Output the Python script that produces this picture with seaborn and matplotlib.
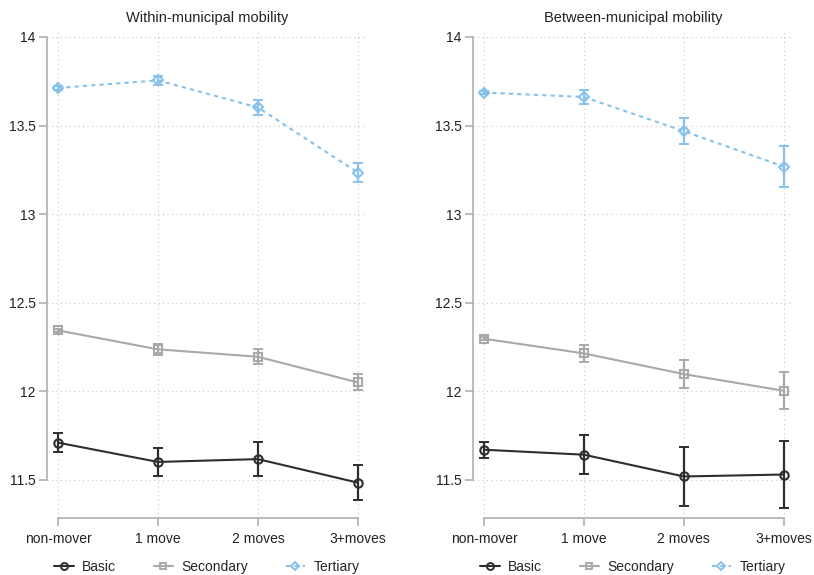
import matplotlib
matplotlib.use("Agg")
import matplotlib.pyplot as plt
import numpy as np
import pandas as pd
import seaborn as sns
from matplotlib.lines import Line2D

# ── Data ─────────────────────────────────────────────────────────────────────
moves = ["non-mover", "1 move", "2 moves", "3+moves"]
levels = ["Basic", "Secondary", "Tertiary"]
panels = ["Within-municipal mobility", "Between-municipal mobility"]

within_basic = [11.709, 11.600, 11.616, 11.483]
within_basic_err = [0.055, 0.078, 0.098, 0.099]
within_secondary = [12.343, 12.236, 12.194, 12.049]
within_secondary_err = [0.010, 0.030, 0.042, 0.045]
within_tertiary = [13.712, 13.755, 13.602, 13.234]
within_tertiary_err = [0.010, 0.025, 0.043, 0.052]

between_basic = [11.669, 11.641, 11.518, 11.529]
between_basic_err = [0.044, 0.110, 0.166, 0.190]
between_secondary = [12.296, 12.213, 12.096, 12.002]
between_secondary_err = [0.010, 0.047, 0.077, 0.104]
between_tertiary = [13.686, 13.661, 13.468, 13.268]
between_tertiary_err = [0.010, 0.040, 0.074, 0.115]

COLORS = {"Basic": "#2e2e2e", "Secondary": "#a9a9a9", "Tertiary": "#86c2ec"}
MARKERS = {"Basic": "o", "Secondary": "s", "Tertiary": "D"}
MSIZE = {"Basic": 6, "Secondary": 5.5, "Tertiary": 5}
DASHES = {"Basic": "", "Secondary": "", "Tertiary": (2, 2)}
GRAY = "#b0b0b0"


def _long(values, errs):
    rows = []
    for lvl, v, e in zip(levels, values, errs):
        for i, (m, y, err) in enumerate(zip(moves, v, e)):
            rows.append({"pos": i, "move": m, "level": lvl, "y": y, "err": err})
    return pd.DataFrame(rows)


data = {
    panels[0]: _long([within_basic, within_secondary, within_tertiary],
                     [within_basic_err, within_secondary_err, within_tertiary_err]),
    panels[1]: _long([between_basic, between_secondary, between_tertiary],
                     [between_basic_err, between_secondary_err, between_tertiary_err]),
}

sns.set_theme(style="white")
plt.rcParams["font.family"] = ["Liberation Sans", "DejaVu Sans"]

fig = plt.figure(figsize=(8.14, 5.75), dpi=100)
axes = [fig.add_axes([0.0577, 0.099, 0.393, 0.849]),
        fig.add_axes([0.581, 0.099, 0.393, 0.849])]

for ax, title in zip(axes, panels):
    df = data[title]
    for lvl in levels:
        sub = df[df["level"] == lvl]
        ax.errorbar(sub["pos"], sub["y"], yerr=sub["err"], fmt="none",
                    ecolor=COLORS[lvl], elinewidth=1.6, capsize=3.5, capthick=1.4, zorder=3)
    sns.lineplot(data=df, x="pos", y="y", hue="level", style="level",
                 palette=COLORS, markers=MARKERS, dashes=DASHES, legend=False,
                 linewidth=1.5, markersize=6, markerfacecolor="none",
                 markeredgewidth=1.5, ax=ax, zorder=4)
    # per-level marker colours / sizes
    for line, lvl in zip(ax.get_lines()[-3:], levels):
        line.set_markeredgecolor(COLORS[lvl])
        line.set_markersize(MSIZE[lvl])

    ax.set_xlim(-0.11, 3.09)
    ax.set_ylim(11.283, 14.04)
    ax.set_xticks(range(len(moves)), moves)
    ax.set_yticks([11.5, 12, 12.5, 13, 13.5, 14], ["11.5", "12", "12.5", "13", "13.5", "14"])
    ax.set_xlabel("")
    ax.set_ylabel("")
    ax.set_title(title, fontsize=10.5, color="#222222", pad=6)
    ax.grid(True, linestyle=(0, (1, 3)), color="#c8c8c8", linewidth=0.8)
    ax.set_axisbelow(True)
    for s in ["top", "right"]:
        ax.spines[s].set_visible(False)
    ax.spines["left"].set_bounds(11.5, 14)
    ax.spines["bottom"].set_bounds(0, 3)
    for s in ["left", "bottom"]:
        ax.spines[s].set_color(GRAY)
        ax.spines[s].set_linewidth(1.2)
    ax.tick_params(axis="both", which="both", direction="out", length=6, width=1.2,
                   color=GRAY, labelsize=10, labelcolor="#222222", pad=2,
                   left=True, bottom=True)
    ax.tick_params(axis="x", pad=4)

    handles = [Line2D([], [], color=COLORS[l], marker=MARKERS[l], markersize=MSIZE[l] - 1,
                      markerfacecolor="none", markeredgewidth=1.4, linewidth=1.5,
                      dashes=DASHES[l] if DASHES[l] else (None, None)) for l in levels]
    ax.legend(handles, levels, loc="center", bbox_to_anchor=(0.5, -0.1),
              ncol=3, frameon=False, fontsize=10, handlelength=1.4, columnspacing=2.7,
              handletextpad=0.6, borderpad=0.2)

fig.savefig("out.png", dpi=100)
